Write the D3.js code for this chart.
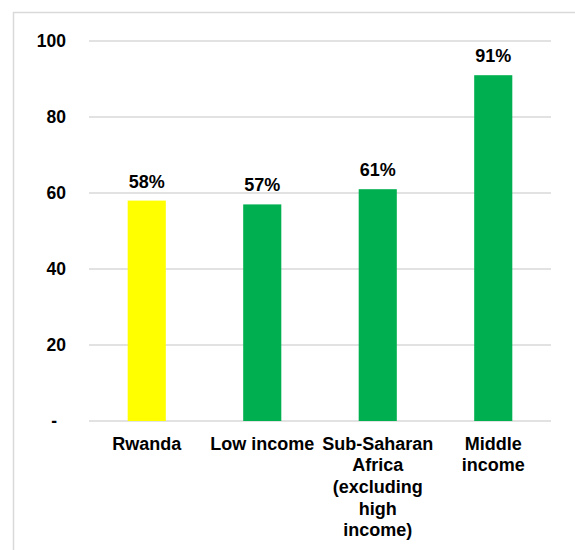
<!DOCTYPE html>
<html>
<head>
<meta charset="utf-8">
<script src="https://cdn.jsdelivr.net/npm/d3@7"></script>
<style>
  html, body { margin: 0; padding: 0; background: #fff; }
  svg { display: block; }
  text { font-family: "Liberation Sans", Arial, sans-serif; font-weight: bold; fill: #000; }
</style>
</head>
<body>
<svg id="chart" width="575" height="550"></svg>
<script>
// Share of population (%) by group
const categories = ["Rwanda", "Low income", "Sub-Saharan Africa (excluding high income)", "Middle income"];
const categoryLines = [["Rwanda"], ["Low income"], ["Sub-Saharan", "Africa", "(excluding", "high", "income)"], ["Middle", "income"]];
const values = [58, 57, 61, 91];
const barColors = ["#ffff00", "#00b050", "#00b050", "#00b050"];
const yTicks = [0, 20, 40, 60, 80, 100];
const yTickLabels = ["-", "20", "40", "60", "80", "100"];

const svg = d3.select("#chart");
const W = 575, H = 550;
const margin = { left: 89, right: 24, top: 41, bottom: 129 };

// outer frame (runs past the right and bottom edges)
svg.append("rect")
  .attr("x", 13.5).attr("y", 12.5)
  .attr("width", W + 20).attr("height", H + 20)
  .attr("fill", "none").attr("stroke", "#d9d9d9").attr("stroke-width", 1.5);

const x = d3.scaleBand()
  .domain(categories)
  .range([margin.left, W - margin.right])
  .paddingInner(0.67).paddingOuter(0.335);

const y = d3.scaleLinear()
  .domain([0, 100])
  .range([H - margin.bottom, margin.top]);

// gridlines
svg.append("g")
  .selectAll("line")
  .data(yTicks)
  .join("line")
  .attr("x1", margin.left).attr("x2", W - margin.right)
  .attr("y1", d => y(d)).attr("y2", d => y(d))
  .attr("stroke", "#d9d9d9").attr("stroke-width", 1.5);

// y tick labels (the zero dash sits inset, accounting style)
svg.append("g")
  .selectAll("text")
  .data(yTicks)
  .join("text")
  .attr("x", d => d === 0 ? 57 : 66)
  .attr("y", d => y(d))
  .attr("dy", "0.35em")
  .attr("text-anchor", "end")
  .attr("font-size", 17.5)
  .text((d, i) => yTickLabels[i]);

// bars
svg.append("g")
  .selectAll("rect")
  .data(values)
  .join("rect")
  .attr("x", (d, i) => x(categories[i]))
  .attr("width", x.bandwidth())
  .attr("y", d => y(d))
  .attr("height", d => y(0) - y(d))
  .attr("fill", (d, i) => barColors[i]);

// value labels
svg.append("g")
  .selectAll("text")
  .data(values)
  .join("text")
  .attr("x", (d, i) => x(categories[i]) + x.bandwidth() / 2)
  .attr("y", d => y(d) - 13)
  .attr("text-anchor", "middle")
  .attr("font-size", 18)
  .text(d => d + "%");

// category labels
const catG = svg.append("g");
categories.forEach((c, i) => {
  const cx = x(c) + x.bandwidth() / 2;
  const t = catG.append("text")
    .attr("x", cx)
    .attr("text-anchor", "middle")
    .attr("font-size", 18);
  categoryLines[i].forEach((line, j) => {
    t.append("tspan")
      .attr("x", cx)
      .attr("y", 449.5 + j * 21.7)
      .text(line);
  });
});
</script>
</body>
</html>
